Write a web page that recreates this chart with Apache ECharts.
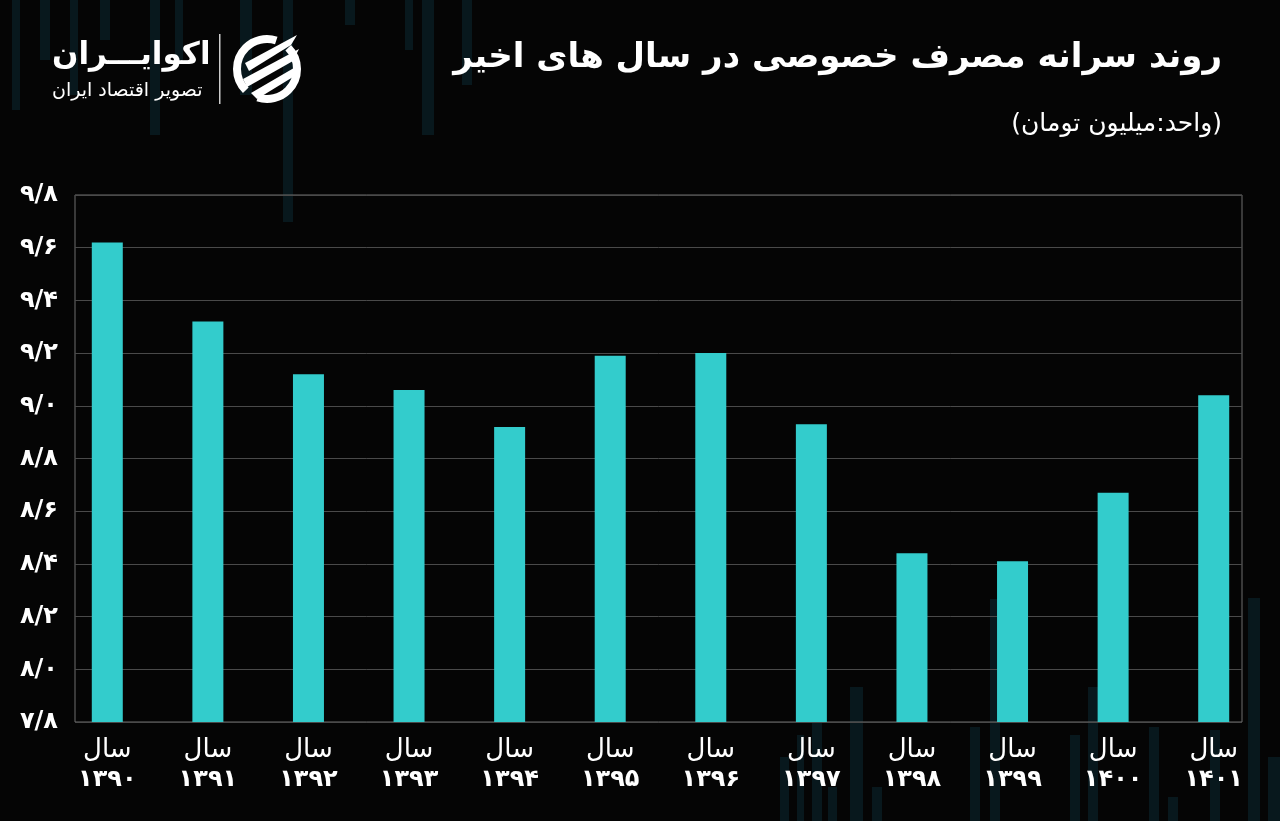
<!DOCTYPE html>
<html>
<head>
<meta charset="utf-8">
<script src="https://cdn.jsdelivr.net/npm/echarts@6/dist/echarts.min.js"></script>
<style>
html,body{margin:0;padding:0;background:#050505;}
#c{width:1280px;height:821px;}
</style>
</head>
<body>
<div id="c"></div>
<script>
const years = ['۱۳۹۰','۱۳۹۱','۱۳۹۲','۱۳۹۳','۱۳۹۴','۱۳۹۵','۱۳۹۶','۱۳۹۷','۱۳۹۸','۱۳۹۹','۱۴۰۰','۱۴۰۱'];
const values = [9.62, 9.32, 9.12, 9.06, 8.92, 9.19, 9.20, 8.93, 8.44, 8.41, 8.67, 9.04];
const yMin = 7.8, yMax = 9.8, yStep = 0.2;
const yearWord = 'سال';
const titleText = 'روند سرانه مصرف خصوصی در سال های اخیر';
const unitText = '(واحد:میلیون تومان)';
const brandText = 'اکوایـــران';
const brandSub = 'تصویر اقتصاد ایران';

const FONT = "'DejaVu Sans', sans-serif";
function fa(s){ return String(s).replace(/[0-9]/g, d => '۰۱۲۳۴۵۶۷۸۹'[+d]); }
function fmtY(v){ return fa(v.toFixed(1)).replace('.', '/'); }

// faint decorative background columns (top-left and bottom-right)
const deco = [];
const decoCol = '#08181d';
[[12,0,8,110],[40,0,10,60],[70,0,8,95],[100,0,10,40],[150,0,10,135],[175,0,8,60],[240,0,12,95],[283,0,10,222],[345,0,10,25],[405,0,8,50],[422,0,12,135],[462,0,10,85],
 [780,757,9,64],[797,735,7,86],[812,687,10,134],[828,787,9,34],[850,687,13,134],[872,787,10,34],[970,727,10,94],[990,599,10,222],[1070,735,10,86],[1088,687,10,134],[1149,727,10,94],[1168,797,10,24],[1210,730,10,91],[1248,598,12,223],[1268,757,12,64]]
.forEach(r => deco.push({type:'rect', silent:true, z:-10, shape:{x:r[0],y:r[1],width:r[2],height:r[3]}, style:{fill:decoCol}}));

const chart = echarts.init(document.getElementById('c'));
chart.setOption({
  backgroundColor:'#050505',
  animation:false,
  textStyle:{fontFamily:FONT},
  title:[{
    text:titleText, right:53, top:36,
    textStyle:{color:'#ffffff', fontSize:34, fontWeight:'bold', fontFamily:FONT}
  },{
    text:unitText, right:53, top:107,
    textStyle:{color:'#ffffff', fontSize:25, fontWeight:'normal', fontFamily:FONT}
  }],
  grid:[
    {left:75, right:38, top:195, bottom:99, show:true, borderColor:'#6e6e6e', borderWidth:1, backgroundColor:'transparent'},
    {left:57, right:16, top:195, bottom:99}
  ],
  xAxis:[
    {gridIndex:0, type:'category', data:years, show:false},
    {gridIndex:1, type:'category', data:years,
     axisLine:{show:false}, axisTick:{show:false},
     axisLabel:{color:'#ffffff', fontFamily:FONT, margin:13,
       formatter: y => '{a|' + yearWord + '}\n{b|' + y + '}',
       rich:{
         a:{color:'#ffffff', fontSize:26, fontFamily:FONT, lineHeight:30},
         b:{color:'#ffffff', fontSize:24, fontWeight:'bold', fontFamily:FONT, lineHeight:30}
       }}}
  ],
  yAxis:[
    {gridIndex:0, type:'value', min:yMin, max:yMax, interval:yStep,
     axisLine:{show:false}, axisTick:{show:false},
     axisLabel:{color:'#ffffff', fontSize:24, fontWeight:'bold', fontFamily:FONT, margin:17, formatter:fmtY},
     splitLine:{lineStyle:{color:'#4a4a4a', width:1}}},
    {gridIndex:1, type:'value', min:yMin, max:yMax, interval:yStep, show:false, splitLine:{show:false}}
  ],
  series:[{
    type:'bar', xAxisIndex:1, yAxisIndex:1, data:values, barWidth:31,
    itemStyle:{color:'#33cccc'}
  }],
  graphic: deco.concat([
    {type:'text', left:52, top:40, style:{text:brandText, fill:'#ffffff', font:"bold 31px 'DejaVu Sans'"}},
    {type:'text', left:52, top:82, style:{text:brandSub, fill:'#ffffff', font:"19px 'DejaVu Sans'"}},
    {type:'rect', shape:{x:219,y:34,width:1.5,height:70}, style:{fill:'#cccccc'}},
    {type:'group', left:233, top:35, children:[
      {type:'arc', shape:{cx:36,cy:36,r:30,startAngle:Math.PI*0.75,endAngle:Math.PI*1.6}, style:{stroke:'#fff', lineWidth:8, fill:null}},
      {type:'arc', shape:{cx:36,cy:36,r:30,startAngle:-Math.PI*0.25,endAngle:Math.PI*0.6}, style:{stroke:'#fff', lineWidth:8, fill:null}},
      {type:'polygon', shape:{points:[[14,30],[66,2],[60,12],[18,38]]}, style:{fill:'#fff'}},
      {type:'polygon', shape:{points:[[12,46],[68,16],[62,28],[16,54]]}, style:{fill:'#fff'}},
      {type:'polygon', shape:{points:[[20,60],[68,32],[62,44],[26,66]]}, style:{fill:'#fff'}}
    ]}
  ])
});
</script>
</body>
</html>
